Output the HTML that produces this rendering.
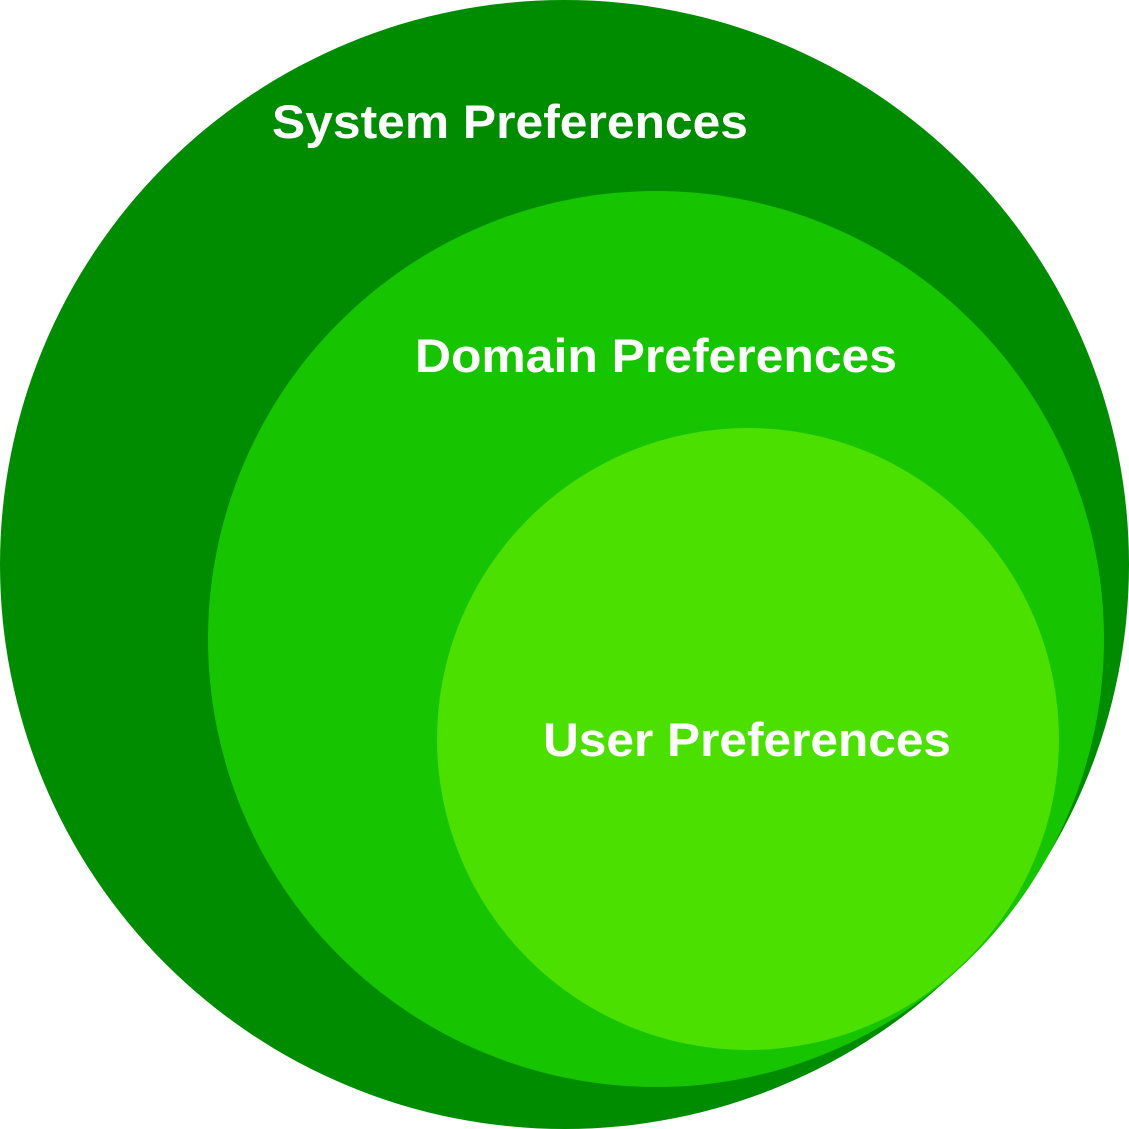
<!DOCTYPE html>
<html><head><meta charset="utf-8"><style>
html,body{margin:0;padding:0;background:#fff;}
svg{display:block}
text{font-family:"Liberation Sans",Arial,sans-serif;font-weight:bold;font-size:47px;fill:#fff;}
</style></head><body>
<svg width="1129" height="1129" viewBox="0 0 1129 1129">
<ellipse cx="564.5" cy="564.5" rx="564.5" ry="564.5" fill="#008c00"/>
<circle cx="656" cy="639" r="448" fill="#17c400"/>
<circle cx="748" cy="739" r="311" fill="#4be000"/>
<text x="272" y="138" textLength="476" lengthAdjust="spacingAndGlyphs">System Preferences</text>
<text x="415" y="372" textLength="482" lengthAdjust="spacingAndGlyphs">Domain Preferences</text>
<text x="543" y="756" textLength="408" lengthAdjust="spacingAndGlyphs">User Preferences</text>
</svg>
</body></html>
